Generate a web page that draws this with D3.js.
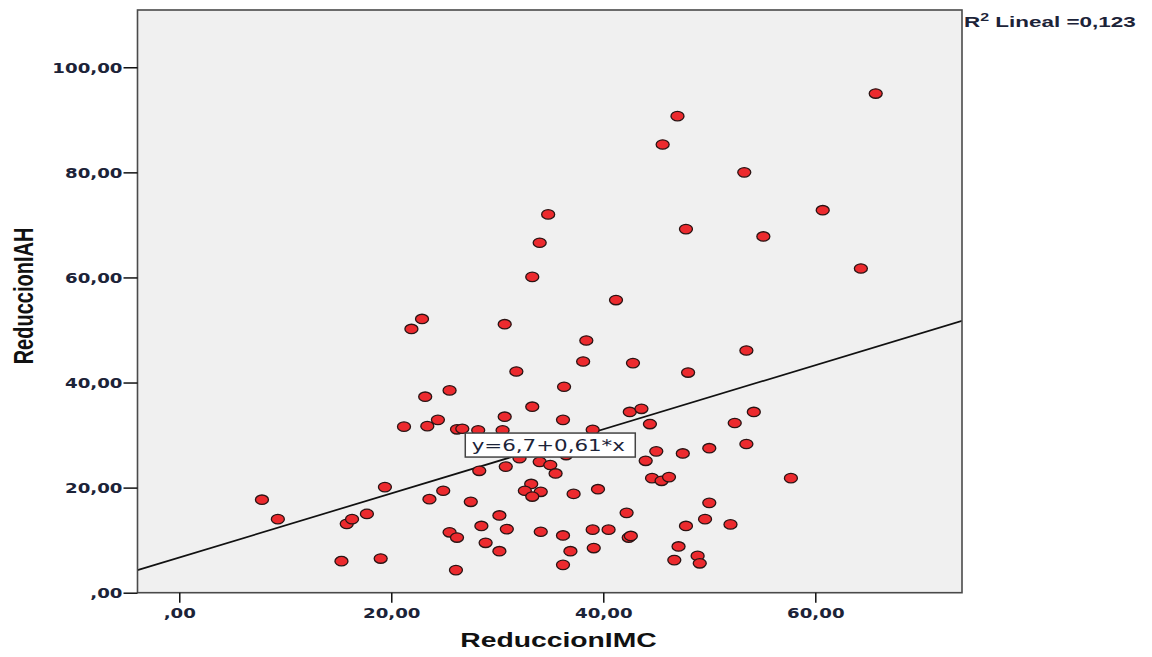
<!DOCTYPE html>
<html>
<head>
<meta charset="utf-8">
<script src="https://cdn.jsdelivr.net/npm/d3@7"></script>
<style>
  html, body { margin: 0; padding: 0; background: #ffffff; }
  svg { display: block; }
</style>
</head>
<body>
<svg id="chart" width="1152" height="657"></svg>
<script>
// ---- Data ----
const reduccionIMC = [
  7.8, 9.3, 15.3, 15.8, 16.3, 17.7, 19.0, 19.4, 21.9, 22.9,
  23.2, 25.5, 24.4, 21.2, 23.4, 26.2, 26.7, 28.2, 30.5, 23.6,
  24.9, 27.5, 25.5, 26.2, 26.1, 28.3, 30.8, 32.1, 34.0, 35.0,
  35.5, 36.5, 33.2, 32.6, 34.1, 33.3, 37.2, 39.5, 30.2, 28.5,
  30.9, 28.9, 30.2, 34.1, 36.2, 36.9, 36.2, 39.0, 40.5, 39.1,
  42.2, 42.4, 42.6, 44.0, 45.0, 47.5, 44.6, 45.5, 46.2, 47.8,
  47.1, 46.7, 30.7, 38.4, 38.1, 42.8, 53.5, 31.8, 48.0, 36.3,
  33.3, 30.7, 36.2, 42.5, 43.6, 44.4, 39.0, 54.2, 52.4, 53.5,
  50.0, 47.0, 45.6, 53.3, 34.8, 47.8, 55.1, 34.0, 33.3, 41.2,
  65.7, 60.7, 64.3, 57.7, 50.0, 49.6, 52.0, 48.9, 49.1
];
const reduccionIAH = [
  17.7, 14.0, 6.0, 13.1, 14.0, 15.0, 6.5, 20.1, 50.2, 52.1,
  37.3, 38.5, 32.9, 31.6, 31.7, 31.1, 31.2, 30.9, 30.9, 17.8,
  19.4, 17.3, 11.5, 10.5, 4.3, 23.2, 24.0, 25.6, 24.9, 24.3,
  22.7, 26.2, 20.7, 19.4, 19.2, 18.3, 18.8, 19.7, 14.7, 12.7,
  12.1, 9.5, 7.9, 11.6, 10.9, 7.9, 5.3, 12.0, 12.0, 8.5,
  15.2, 10.5, 10.8, 25.1, 26.9, 26.5, 21.8, 21.3, 22.0, 12.7,
  8.8, 6.2, 51.1, 48.0, 44.0, 43.7, 46.1, 42.1, 41.9, 39.2,
  35.4, 33.5, 32.9, 34.4, 35.0, 32.1, 31.0, 34.4, 32.3, 28.3,
  27.5, 90.7, 85.3, 80.0, 72.0, 69.2, 67.8, 66.6, 60.1, 55.7,
  95.0, 72.8, 61.7, 21.8, 17.1, 14.0, 13.0, 7.0, 5.6
];
const xTickValues = [0, 20, 40, 60];
const yTickValues = [0, 20, 40, 60, 80, 100];
const xDomain = [-3.94, 73.84];
const yDomain = [0, 110.9];
const fitIntercept = 6.7;
const fitSlope = 0.61;
const fitLabel = "y=6,7+0,61*x";
const fitLabelAt = [35.0, 28.1];
const r2Text = "0,123";
const xTitle = "ReduccionIMC";
const yTitle = "ReduccionIAH";

// ---- Layout ----
const plot = { left: 137.5, right: 962, top: 10, bottom: 592.7 };
const SX = 1.38; // horizontal stretch seen in the reference
const svg = d3.select("#chart");

const x = d3.scaleLinear().domain(xDomain).range([plot.left, plot.right]);
const y = d3.scaleLinear().domain(yDomain).range([plot.bottom, plot.top]);

const fmt = v => {
  let s = d3.format(".2f")(v).replace(".", ",");
  if (s.startsWith("0,")) s = s.slice(1);
  return s;
};

// plot background
svg.append("rect")
  .attr("x", plot.left).attr("y", plot.top)
  .attr("width", plot.right - plot.left).attr("height", plot.bottom - plot.top)
  .attr("fill", "#f0f0f0");

// clip for marks
svg.append("defs").append("clipPath").attr("id", "clip")
  .append("rect")
  .attr("x", plot.left).attr("y", plot.top)
  .attr("width", plot.right - plot.left).attr("height", plot.bottom - plot.top);

// regression line
const fitData = xDomain.map(v => ({ x: v, y: fitIntercept + fitSlope * v }));
svg.append("path")
  .datum(fitData)
  .attr("clip-path", "url(#clip)")
  .attr("fill", "none")
  .attr("stroke", "#111")
  .attr("stroke-width", 1.7)
  .attr("d", d3.line().x(d => x(d.x)).y(d => y(d.y)));

// points
const pts = reduccionIMC.map((v, i) => ({ x: v, y: reduccionIAH[i] }));
svg.append("g").attr("clip-path", "url(#clip)")
  .selectAll("ellipse").data(pts).join("ellipse")
  .attr("cx", d => x(d.x)).attr("cy", d => y(d.y))
  .attr("rx", 6.5).attr("ry", 4.7)
  .attr("fill", "#ec2a2e")
  .attr("stroke", "#2a1414")
  .attr("stroke-width", 1.3);

// fit label
const lg = svg.append("g")
  .attr("transform", `translate(${x(fitLabelAt[0])},${y(fitLabelAt[1])})`);
const lw = 170, lh = 24;
lg.append("rect")
  .attr("x", -lw / 2).attr("y", -lh / 2).attr("width", lw).attr("height", lh)
  .attr("fill", "#ffffff").attr("stroke", "#444").attr("stroke-width", 1.5);
lg.append("text")
  .attr("transform", `translate(-2,0) scale(${SX},1)`)
  .attr("text-anchor", "middle").attr("dy", "0.36em")
  .attr("font-family", "DejaVu Sans, sans-serif")
  .attr("font-size", 15.5)
  .attr("fill", "#1c2338")
  .text(fitLabel);

// frame
svg.append("rect")
  .attr("x", plot.left).attr("y", plot.top)
  .attr("width", plot.right - plot.left).attr("height", plot.bottom - plot.top)
  .attr("fill", "none").attr("stroke", "#4a4a4a").attr("stroke-width", 1.6);

// axes
const yAxis = d3.axisLeft(y).tickValues(yTickValues).tickSize(14).tickSizeOuter(0).tickFormat(fmt);
const ya = svg.append("g").attr("transform", `translate(${plot.left},0)`).call(yAxis);
ya.select(".domain").remove();
ya.selectAll(".tick line").attr("stroke", "#111").attr("stroke-width", 1.5);
ya.selectAll(".tick text")
  .attr("x", null).attr("dy", "0.36em")
  .attr("transform", `translate(-15,0) scale(1.3,1)`)
  .attr("font-family", "DejaVu Sans, sans-serif")
  .attr("font-weight", "bold").attr("font-size", 14)
  .attr("fill", "#1c2338");

const xAxis = d3.axisBottom(x).tickValues(xTickValues).tickSize(10).tickSizeOuter(0).tickFormat(fmt);
const xa = svg.append("g").attr("transform", `translate(0,${plot.bottom})`).call(xAxis);
xa.select(".domain").remove();
xa.selectAll(".tick line").attr("stroke", "#111").attr("stroke-width", 1.5);
xa.selectAll(".tick text")
  .attr("y", null).attr("dy", null)
  .attr("transform", `translate(0,25) scale(1.3,1)`)
  .attr("font-family", "DejaVu Sans, sans-serif")
  .attr("font-weight", "bold").attr("font-size", 14)
  .attr("fill", "#1c2338");

// axis titles
svg.append("text")
  .attr("transform", `translate(558.5,647) scale(${SX},1)`)
  .attr("text-anchor", "middle")
  .attr("font-family", "Liberation Sans, Arial, sans-serif")
  .attr("font-weight", "bold").attr("font-size", 20.5)
  .attr("fill", "#111")
  .text(xTitle);

svg.append("text")
  .attr("transform", `translate(33,296) scale(${SX},1) rotate(-90)`)
  .attr("text-anchor", "middle")
  .attr("font-family", "Liberation Sans, Arial, sans-serif")
  .attr("font-weight", "bold").attr("font-size", 20)
  .attr("fill", "#111")
  .text(yTitle);

// R² annotation
const r2 = svg.append("text")
  .attr("transform", `translate(964,27) scale(1.45,1)`)
  .attr("font-family", "Liberation Sans, Arial, sans-serif")
  .attr("font-weight", "bold").attr("font-size", 15.5)
  .attr("fill", "#1c2338");
r2.append("tspan").text("R");
r2.append("tspan").attr("dy", -6).attr("font-size", 11).text("2");
r2.append("tspan").attr("dy", 6).text(" Lineal =" + r2Text);
</script>
</body>
</html>
